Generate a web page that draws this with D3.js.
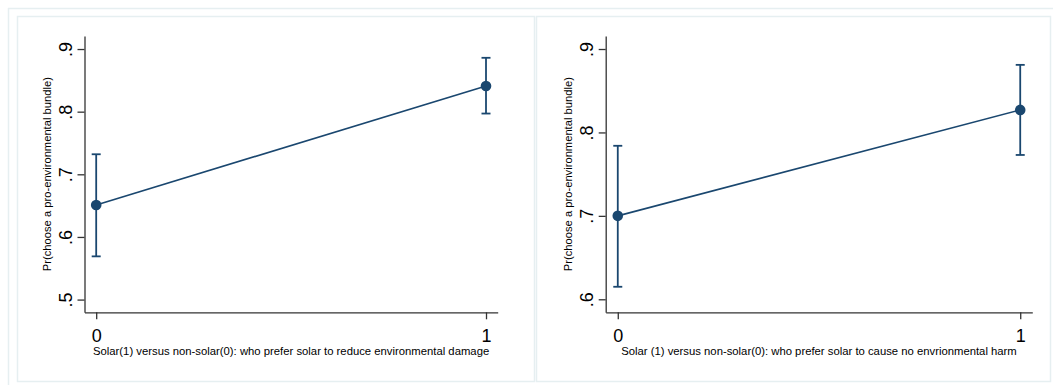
<!DOCTYPE html>
<html>
<head>
<meta charset="utf-8">
<script src="https://cdn.jsdelivr.net/npm/d3@7"></script>
<style>
  html, body { margin: 0; padding: 0; background: #ffffff; }
  svg { display: block; font-family: "Liberation Sans", Arial, Helvetica, sans-serif; }
</style>
</head>
<body>
<svg id="chart" width="1053" height="385"></svg>
<script>
// Predictive margins with 95% confidence intervals, two specifications.
const categories = [0, 1];

const damageMargins = [0.651, 0.841];
const damageLower   = [0.569, 0.797];
const damageUpper   = [0.732, 0.886];
const damageTicks   = [0.5, 0.6, 0.7, 0.8, 0.9];
const damageTitle   = "Solar(1) versus non-solar(0): who prefer solar to reduce environmental damage";

const harmMargins = [0.700, 0.827];
const harmLower   = [0.615, 0.773];
const harmUpper   = [0.784, 0.881];
const harmTicks   = [0.6, 0.7, 0.8, 0.9];
const harmTitle   = "Solar (1) versus non-solar(0): who prefer solar to cause no envrionmental harm";

const yTitle = "Pr(choose a pro-environmental bundle)";

const navy = "#1a476f";
const frameColor = "#e6eff1";

const svg = d3.select("#chart");

// outer graph frame
svg.append("line").attr("x1", 8).attr("x2", 1053).attr("y1", 8.5).attr("y2", 8.5)
  .attr("stroke", frameColor).attr("stroke-width", 1.5);
svg.append("line").attr("x1", 8.5).attr("x2", 8.5).attr("y1", 8).attr("y2", 385)
  .attr("stroke", frameColor).attr("stroke-width", 1.5);

const panels = [
  { frame: [17, 16, 534, 381], xr: [84.5, 497.7], yDomain: [0.4797, 0.9208],
    mean: damageMargins, lo: damageLower, hi: damageUpper, ticks: damageTicks, title: damageTitle },
  { frame: [536, 16, 1050, 381], xr: [605.7, 1032.3], yDomain: [0.5844, 0.9156],
    mean: harmMargins, lo: harmLower, hi: harmUpper, ticks: harmTicks, title: harmTitle }
];

const fmt = v => d3.format(".1f")(v).replace(/^0/, "");

panels.forEach(p => {
  const [fx0, fy0, fx1, fy1] = p.frame;
  svg.append("rect")
    .attr("x", fx0 + 0.5).attr("y", fy0 + 0.5)
    .attr("width", fx1 - fx0).attr("height", fy1 - fy0)
    .attr("fill", "#ffffff").attr("stroke", frameColor).attr("stroke-width", 1.5);

  const yTop = 36, yBot = 312.3;
  const x = d3.scaleLinear().domain([-0.03, 1.03]).range(p.xr);
  const y = d3.scaleLinear().domain(p.yDomain).range([yBot, yTop]);

  const g = svg.append("g");

  // y axis
  const ya = g.append("g")
    .attr("transform", `translate(${p.xr[0]},0)`)
    .call(d3.axisLeft(y).tickValues(p.ticks).tickFormat(fmt).tickSize(7).tickSizeOuter(0));
  ya.select(".domain").attr("stroke", "#333").attr("stroke-width", 1.3);
  ya.selectAll(".tick line").attr("stroke", "#333").attr("stroke-width", 1.3);
  ya.selectAll(".tick text")
    .attr("x", null).attr("dy", null)
    .attr("transform", "translate(-13,0) rotate(-90)")
    .attr("text-anchor", "middle")
    .attr("fill", "#000").attr("font-size", 18);

  // x axis
  const xa = g.append("g")
    .attr("transform", `translate(0,${yBot})`)
    .call(d3.axisBottom(x).tickValues(categories).tickFormat(d3.format("d")).tickSize(7).tickSizeOuter(0));
  xa.select(".domain").attr("stroke", "#333").attr("stroke-width", 1.3);
  xa.selectAll(".tick line").attr("stroke", "#333").attr("stroke-width", 1.3);
  xa.selectAll(".tick text")
    .attr("y", null).attr("dy", null)
    .attr("transform", "translate(0,29.5)")
    .attr("fill", "#000").attr("font-size", 18);

  // axis titles
  g.append("text")
    .attr("transform", `translate(${p.xr[0] - 34},${(yTop + yBot) / 2}) rotate(-90)`)
    .attr("text-anchor", "middle")
    .attr("font-size", 11.2).attr("fill", "#000")
    .text(yTitle);
  g.append("text")
    .attr("x", (p.xr[0] + p.xr[1]) / 2).attr("y", 355)
    .attr("text-anchor", "middle")
    .attr("font-size", 11.3).attr("fill", "#000")
    .text(p.title);

  const pts = categories.map((c, i) => ({ c, m: p.mean[i], lo: p.lo[i], hi: p.hi[i] }));

  // confidence intervals
  const ci = g.append("g").attr("stroke", navy).attr("stroke-width", 1.8).attr("fill", "none");
  pts.forEach(d => {
    ci.append("line").attr("x1", x(d.c)).attr("x2", x(d.c)).attr("y1", y(d.lo)).attr("y2", y(d.hi));
    ci.append("line").attr("x1", x(d.c) - 4.5).attr("x2", x(d.c) + 4.5).attr("y1", y(d.lo)).attr("y2", y(d.lo));
    ci.append("line").attr("x1", x(d.c) - 4.5).attr("x2", x(d.c) + 4.5).attr("y1", y(d.hi)).attr("y2", y(d.hi));
  });

  // connecting line
  g.append("path")
    .datum(pts)
    .attr("fill", "none").attr("stroke", navy).attr("stroke-width", 1.6)
    .attr("d", d3.line().x(d => x(d.c)).y(d => y(d.m)));

  // markers
  g.selectAll("circle.pt").data(pts).join("circle")
    .attr("class", "pt")
    .attr("cx", d => x(d.c)).attr("cy", d => y(d.m)).attr("r", 5.3)
    .attr("fill", navy);
});
</script>
</body>
</html>
